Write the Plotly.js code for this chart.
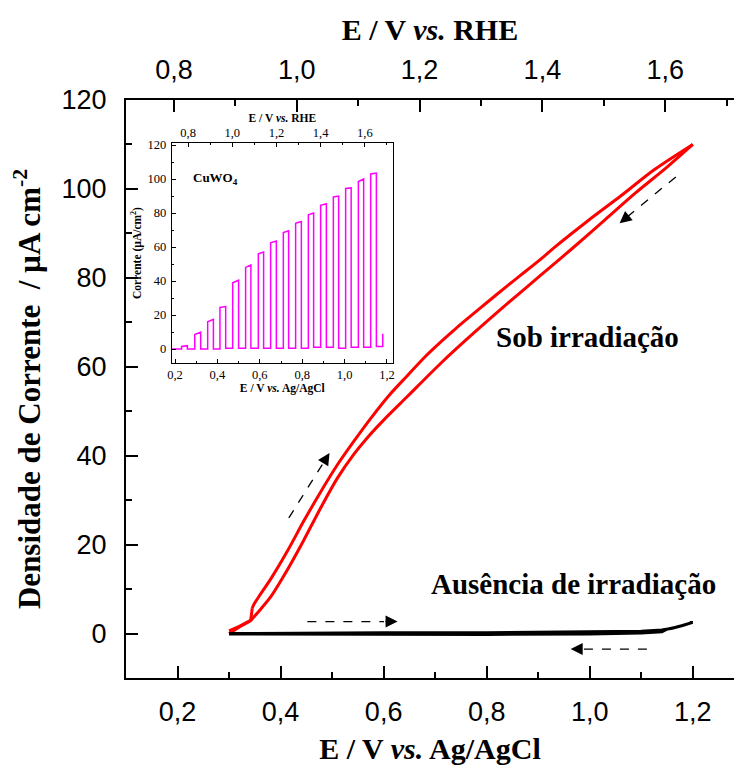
<!DOCTYPE html>
<html>
<head>
<meta charset="utf-8">
<script src="https://cdn.plot.ly/plotly-3.0.1.min.js"></script>
<style>html,body{margin:0;padding:0;background:#fff;}#chart{width:734px;height:771px;}</style>
</head>
<body>
<div id="chart"></div>
<script>
// ---- Main chart data (E / V vs. Ag/AgCl, current density / µA cm^-2) ----
var lightFwdE = [0.342, 0.360, 0.381, 0.413, 0.445, 0.478, 0.510, 0.542, 0.568, 0.600, 0.646, 0.711, 0.775, 0.840, 0.905, 0.966, 1.030, 1.090, 1.150, 1.200];
var lightFwdJ = [2.9, 5.3, 8.3, 14.3, 21.0, 28.3, 34.9, 40.3, 44.0, 48.0, 53.3, 60.8, 67.6, 74.2, 80.6, 86.6, 93.1, 99.2, 104.9, 110.0];
var lightRevE = [1.200, 1.125, 1.060, 0.996, 0.931, 0.905, 0.866, 0.840, 0.800, 0.775, 0.740, 0.711, 0.680, 0.646, 0.610, 0.575, 0.542, 0.510, 0.478, 0.445, 0.413, 0.381, 0.360, 0.348, 0.345];
var lightRevJ = [110.0, 104.3, 98.4, 92.8, 86.8, 84.2, 80.6, 78.2, 74.4, 72.0, 68.6, 65.6, 62.2, 58.0, 53.5, 48.4, 43.2, 37.9, 31.9, 25.3, 18.5, 12.3, 8.7, 6.5, 5.7];
var lightStartE = [0.300, 0.320, 0.342];
var lightStartJ = [0.0, 1.5, 2.9];
var lightEndE = [0.345, 0.342, 0.320, 0.300];
var lightEndJ = [5.7, 3.0, 1.6, 0.6];
var darkFwdE = [0.300, 0.400, 0.600, 0.800, 1.000, 1.100, 1.140, 1.160, 1.180, 1.200];
var darkFwdJ = [0.0, 0.1, 0.15, 0.2, 0.3, 0.5, 0.8, 1.2, 1.8, 2.5];
var darkRevE = [1.200, 1.170, 1.150, 1.140, 1.100, 1.000, 0.800, 0.600, 0.400, 0.300];
var darkRevJ = [2.5, 1.5, 1.0, 0.4, 0.1, -0.1, -0.2, -0.2, -0.2, -0.1];

// ---- Inset data: chopped-light CuWO4 ----
var insetStartE = 0.184;
var pulseOnE  = [0.231, 0.293, 0.354, 0.412, 0.472, 0.533, 0.593, 0.651, 0.711, 0.769, 0.829, 0.887, 0.947, 1.005, 1.065, 1.123, 1.180];
var pulseOffE = [0.258, 0.321, 0.381, 0.439, 0.500, 0.558, 0.618, 0.678, 0.736, 0.796, 0.854, 0.914, 0.972, 1.031, 1.090, 1.150, null];
var pulseStartJ = [1.5, 8.5, 16.0, 24.5, 39.0, 48.0, 56.0, 62.5, 68.5, 74.0, 79.0, 84.5, 89.5, 94.5, 98.5, 103.0, 9.0];
var pulseEndJ   = [2.0, 10.0, 17.5, 25.0, 40.5, 49.5, 57.0, 63.5, 69.5, 75.0, 80.0, 85.5, 90.0, 94.8, 100.0, 103.5, 9.0];
var darkBeforeJ = [0.0, 0.0, 0.0, 0.0, 0.5, 0.5, 0.5, 0.5, 0.5, 0.5, 0.5, 1.0, 1.0, 0.5, 1.0, 1.0, 1.5];

// ---- Tick labels ----
var agTicks = [0.2, 0.4, 0.6, 0.8, 1.0, 1.2];
var agTickText = ['0,2', '0,4', '0,6', '0,8', '1,0', '1,2'];
var rheTicks = [0.8, 1.0, 1.2, 1.4, 1.6];
var rheTickText = ['0,8', '1,0', '1,2', '1,4', '1,6'];

// ---- Build inset step trace ----
var insetE = [insetStartE], insetJ = [0];
for (var i = 0; i < pulseOnE.length; i++) {
  insetE.push(pulseOnE[i]); insetJ.push(darkBeforeJ[i]);
  insetE.push(pulseOnE[i]); insetJ.push(pulseStartJ[i]);
  if (pulseOffE[i] !== null) {
    insetE.push(pulseOffE[i]); insetJ.push(pulseEndJ[i]);
    var nextDark = (i + 1 < darkBeforeJ.length) ? darkBeforeJ[i + 1] : 0;
    insetE.push(pulseOffE[i]); insetJ.push(nextDark);
  }
}

var SERIF = 'Liberation Serif, Times New Roman, serif';
var SANS = 'Liberation Sans, Arial, sans-serif';
var RED = {color: '#ff0000', width: 3};
var REDS = {color: '#ff0000', width: 3, shape: 'spline', smoothing: 0.8};

var traces = [
  {x: lightStartE, y: lightStartJ, xaxis: 'x', yaxis: 'y', mode: 'lines', line: RED, hoverinfo: 'skip'},
  {x: lightFwdE, y: lightFwdJ, xaxis: 'x', yaxis: 'y', mode: 'lines', line: REDS, hoverinfo: 'skip'},
  {x: lightRevE, y: lightRevJ, xaxis: 'x', yaxis: 'y', mode: 'lines', line: REDS, hoverinfo: 'skip'},
  {x: lightEndE, y: lightEndJ, xaxis: 'x', yaxis: 'y', mode: 'lines', line: RED, hoverinfo: 'skip'},
  {x: darkFwdE.concat(darkRevE), y: darkFwdJ.concat(darkRevJ), xaxis: 'x', yaxis: 'y', mode: 'lines',
   line: {color: '#000000', width: 3}, hoverinfo: 'skip'},
  {x: [], y: [], xaxis: 'x2', yaxis: 'y', mode: 'lines', hoverinfo: 'skip'},
  {x: insetE, y: insetJ, xaxis: 'x3', yaxis: 'y3', mode: 'lines',
   line: {color: '#ff00ff', width: 1.5}, hoverinfo: 'skip'},
  {x: [], y: [], xaxis: 'x4', yaxis: 'y3', mode: 'lines', hoverinfo: 'skip'}
];

// dashed direction arrows (tail -> head), data coords on main axes
var arrowTail = [[0.416, 26.0], [0.452, 2.7], [1.167, 102.7], [1.111, -3.5]];
var arrowHead = [[0.495, 40.6], [0.627, 2.7], [1.058, 92.3], [0.963, -3.5]];

var shapes = [], annotations = [];
for (var k = 0; k < arrowTail.length; k++) {
  var t = arrowTail[k], h = arrowHead[k];
  var bx = t[0] + (h[0] - t[0]) * 0.85, by = t[1] + (h[1] - t[1]) * 0.85;
  shapes.push({type: 'line', xref: 'x', yref: 'y', x0: t[0], y0: t[1], x1: bx, y1: by,
    line: {color: '#000', width: 1.3, dash: 'dash'}});
  annotations.push({xref: 'x', yref: 'y', axref: 'x', ayref: 'y', x: h[0], y: h[1], ax: bx, ay: by,
    text: '', showarrow: true, arrowhead: 2, arrowsize: 1.5, arrowwidth: 1.6, arrowcolor: '#000', standoff: 0, startstandoff: 0});
}
annotations.push({xref: 'x', yref: 'y', x: 0.995, y: 66.7, text: '<b>Sob irradiação</b>', showarrow: false,
  font: {family: SERIF, size: 29, color: '#000'}});
annotations.push({xref: 'x', yref: 'y', x: 0.969, y: 11.1, text: '<b>Ausência de irradiação</b>', showarrow: false,
  font: {family: SERIF, size: 29, color: '#000'}});
annotations.push({xref: 'x3', yref: 'y3', x: 0.393, y: 100.6, text: '<b>CuWO<sub>4</sub></b>', showarrow: false,
  font: {family: SERIF, size: 13, color: '#000'}});

var mainAxis = {showline: true, linewidth: 2, linecolor: '#000', ticks: 'inside', ticklen: 12, tickwidth: 2,
  tickcolor: '#000', showgrid: false, zeroline: false, tickfont: {family: SANS, size: 27, color: '#000'}};
function extend(a, b) { var o = {}; for (var p in a) o[p] = a[p]; for (var q in b) o[q] = b[q]; return o; }

var insetAxis = {showline: true, linewidth: 1, linecolor: '#000', ticks: 'inside', ticklen: 4, tickwidth: 1,
  tickcolor: '#000', showgrid: false, zeroline: false, tickfont: {family: SERIF, size: 12.5, color: '#000'}};

var layout = {
  width: 734, height: 771,
  margin: {l: 126, r: 0, t: 100, b: 93, pad: 0},
  paper_bgcolor: '#fff', plot_bgcolor: '#fff',
  showlegend: false,
  xaxis: extend(mainAxis, {domain: [0, 1], anchor: 'y', range: [0.1, 1.28], tickvals: agTicks, ticktext: agTickText,
    minor: {dtick: 0.1, tick0: 0.1, ticks: 'inside', ticklen: 6, tickwidth: 2, tickcolor: '#000'},
    ticklabelstandoff: 9,
    title: {text: '<b>E / V <i>vs.</i> Ag/AgCl</b>', font: {family: SERIF, size: 30, color: '#000'}, standoff: 12}}),
  xaxis2: extend(mainAxis, {overlaying: 'x', side: 'top', anchor: 'y', range: [0.722, 1.712], tickvals: rheTicks, ticktext: rheTickText,
    minor: {dtick: 0.1, tick0: 0.7, ticks: 'inside', ticklen: 6, tickwidth: 2, tickcolor: '#000'},
    ticklabelstandoff: 8,
    title: {text: '<b>E / V <i>vs.</i> RHE</b>', font: {family: SERIF, size: 30, color: '#000'}, standoff: 6}}),
  yaxis: extend(mainAxis, {domain: [0, 1], anchor: 'x', range: [-10, 120], tick0: 0, dtick: 20,
    minor: {dtick: 10, tick0: 0, ticks: 'inside', ticklen: 6, tickwidth: 2, tickcolor: '#000'},
    ticklabelstandoff: 12,
    title: {text: '<b>Densidade de Corrente  / µA cm<sup>-2</sup></b>', font: {family: SERIF, size: 31, color: '#000'}, standoff: 12}}),
  xaxis3: extend(insetAxis, {domain: [0.0752, 0.439], anchor: 'y3', range: [0.1844, 1.228], tickvals: agTicks, ticktext: agTickText,
    minor: {dtick: 0.1, tick0: 0.1, ticks: 'inside', ticklen: 2, tickwidth: 1, tickcolor: '#000'},
    ticklabelstandoff: 0,
    title: {text: '<b>E / V <i>vs.</i> Ag/AgCl</b>', font: {family: SERIF, size: 11.5, color: '#000'}, standoff: 0}}),
  xaxis4: extend(insetAxis, {overlaying: 'x3', side: 'top', anchor: 'y3', domain: [0.0752, 0.439], range: [0.726, 1.727], tickvals: rheTicks, ticktext: rheTickText,
    minor: {dtick: 0.1, tick0: 0.7, ticks: 'inside', ticklen: 2, tickwidth: 1, tickcolor: '#000'},
    ticklabelstandoff: 0,
    title: {text: '<b>E / V <i>vs.</i> RHE</b>', font: {family: SERIF, size: 11.5, color: '#000'}, standoff: 0}}),
  yaxis3: extend(insetAxis, {domain: [0.545, 0.9256], anchor: 'x3', range: [-8.2, 121.2], tick0: 0, dtick: 20, mirror: true,
    minor: {dtick: 10, tick0: 0, ticks: 'inside', ticklen: 2, tickwidth: 1, tickcolor: '#000'},
    ticklabelstandoff: 2,
    title: {text: '<b>Corrente (µA/cm<sup>2</sup>)</b>', font: {family: SERIF, size: 11.5, color: '#000'}, standoff: 3}}),
  shapes: shapes,
  annotations: annotations
};

Plotly.newPlot('chart', traces, layout, {staticPlot: true, displayModeBar: false});
</script>
</body>
</html>
